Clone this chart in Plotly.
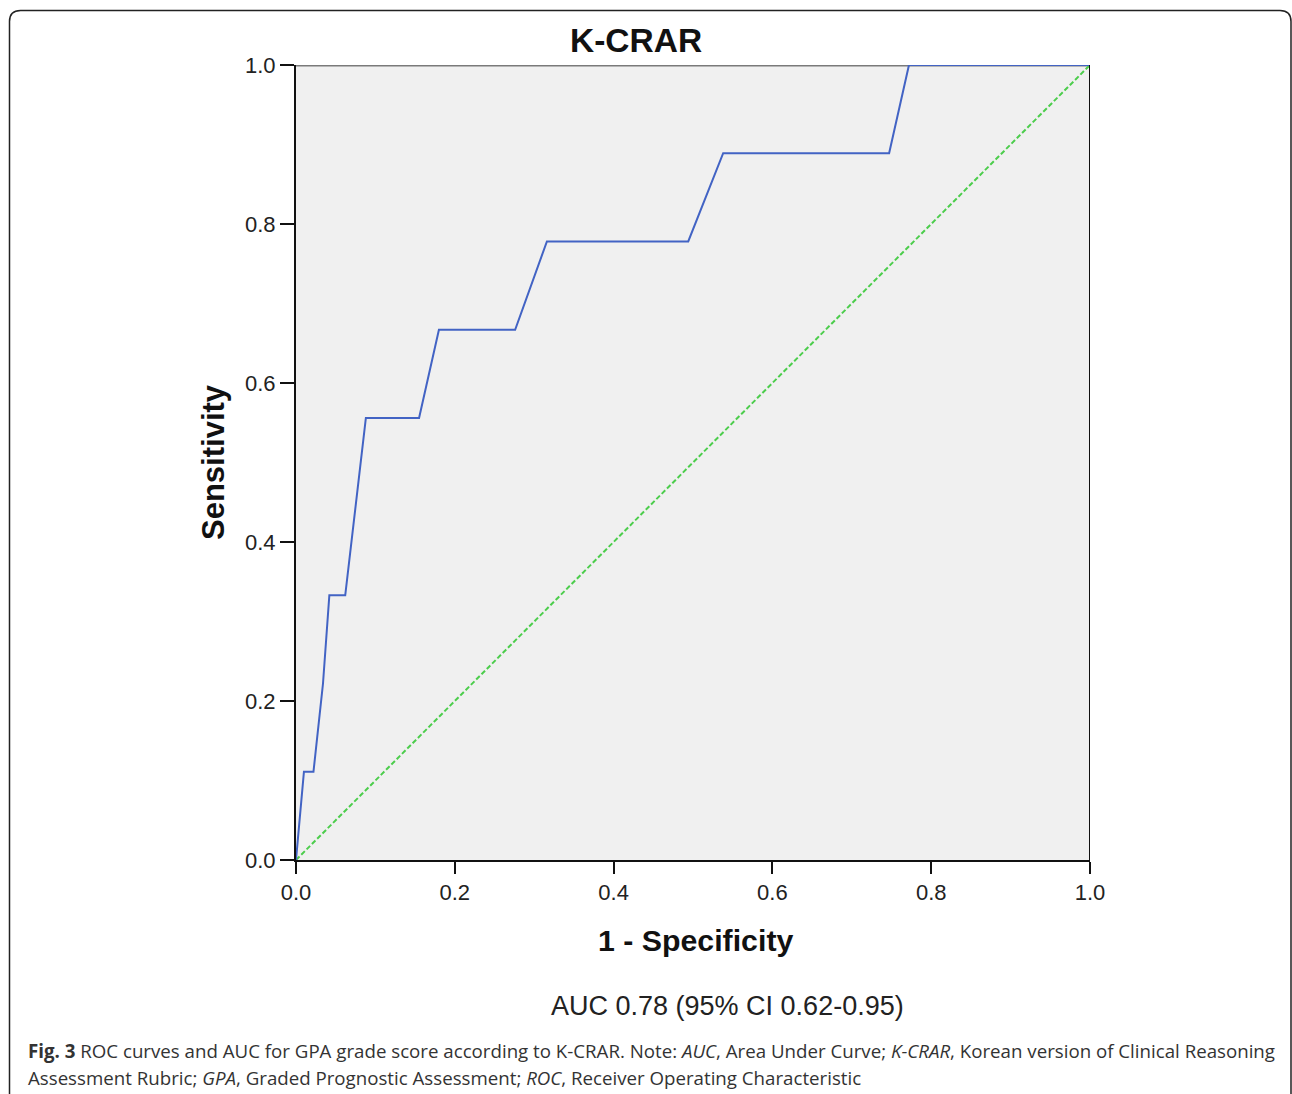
import plotly.graph_objects as go

# Data
fpr = [0.0, 0.010, 0.022, 0.034, 0.042, 0.062, 0.088, 0.155, 0.180, 0.276, 0.316, 0.494, 0.538, 0.747, 0.772, 1.0]
tpr = [0.0, 0.111, 0.111, 0.222, 0.333, 0.333, 0.556, 0.556, 0.667, 0.667, 0.778, 0.778, 0.889, 0.889, 1.0, 1.0]
ref_x = [0.0, 1.0]
ref_y = [0.0, 1.0]
tick_vals = [0.0, 0.2, 0.4, 0.6, 0.8, 1.0]
tick_text = ["0.0", "0.2", "0.4", "0.6", "0.8", "1.0"]

W, H = 1292, 1094
L, R, T, B = 296, 1090, 65, 860


def px(x):
    return (x - L) / (R - L)


def py(y):
    return (B - y) / (B - T)


fig = go.Figure()
fig.add_trace(go.Scatter(x=ref_x, y=ref_y, mode="lines",
                         line=dict(color="#4ccd4c", width=2, dash="5px,2.5px"),
                         hoverinfo="skip", showlegend=False))
fig.add_trace(go.Scatter(x=fpr, y=tpr, mode="lines",
                         line=dict(color="#4263c4", width=2),
                         showlegend=False))

arial = "Liberation Sans, Arial, sans-serif"
axis_font = dict(family=arial, size=22, color="#222")
fig.update_xaxes(range=[0, 1], tickvals=tick_vals, ticktext=tick_text, showgrid=False,
                 zeroline=False, showline=True, linecolor="#111", linewidth=2,
                 ticks="outside", ticklen=12, tickwidth=2, tickcolor="#111",
                 tickfont=axis_font)
fig.update_yaxes(range=[0, 1], tickvals=tick_vals, ticktext=tick_text, showgrid=False,
                 zeroline=False, showline=True, linecolor="#111", linewidth=2,
                 ticks="outside", ticklen=14, tickwidth=2, tickcolor="#111",
                 tickfont=axis_font)

shapes = [
    # top border (gray) and right border (black)
    dict(type="line", xref="x", yref="y", x0=0, x1=1, y0=1, y1=1,
         line=dict(color="#7a7a7a", width=3), layer="below"),
    dict(type="line", xref="x", yref="y", x0=1, x1=1, y0=0, y1=1,
         line=dict(color="#111", width=2), layer="above"),
]
# rounded outer frame
x0, x1, y0, y1, r = 9.5, 1291, 10.5, 1100, 11
path = (f"M {px(x0)},{py(y1)} L {px(x0)},{py(y0 + r)} "
        f"Q {px(x0)},{py(y0)} {px(x0 + r)},{py(y0)} "
        f"L {px(x1 - r)},{py(y0)} Q {px(x1)},{py(y0)} {px(x1)},{py(y0 + r)} "
        f"L {px(x1)},{py(y1)}")
shapes.append(dict(type="path", xref="paper", yref="paper", path=path,
                   line=dict(color="#222", width=1.5)))


def ann(text, x, y, size, family=arial, color="#111", xanchor="center", angle=0):
    return dict(text=text, x=px(x), y=py(y), xref="paper", yref="paper",
                xanchor=xanchor, yanchor="middle", showarrow=False, textangle=angle,
                font=dict(family=family, size=size, color=color))


cap_font = "Open Sans, sans-serif"
annotations = [
    ann("<b>K-CRAR</b>", 636, 40, 33.5),
    ann("<b>1 - Specificity</b>", 695, 940, 30.3),
    ann("<b>Sensitivity</b>", 213, 462, 31, angle=-90),
    ann("AUC 0.78 (95% CI 0.62-0.95)", 727, 1006, 27, color="#222"),
    ann("<b>Fig. 3</b> ROC curves and AUC for GPA grade score according to K-CRAR. Note: <i>AUC</i>, "
        "Area Under Curve; <i>K-CRAR</i>, Korean version of Clinical Reasoning",
        26, 1050, 18.7, family=cap_font, color="#333", xanchor="left"),
    ann("Assessment Rubric; <i>GPA</i>, Graded Prognostic Assessment; <i>ROC</i>, "
        "Receiver Operating Characteristic",
        26, 1077, 18.7, family=cap_font, color="#333", xanchor="left"),
]

fig.update_layout(width=W, height=H, margin=dict(l=L, r=W - R, t=T, b=H - B),
                  plot_bgcolor="#f0f0f0", paper_bgcolor="white",
                  shapes=shapes, annotations=annotations, showlegend=False)

fig.write_html("out.html", config={"displayModeBar": False},
               post_script="document.body.style.margin='0';")
